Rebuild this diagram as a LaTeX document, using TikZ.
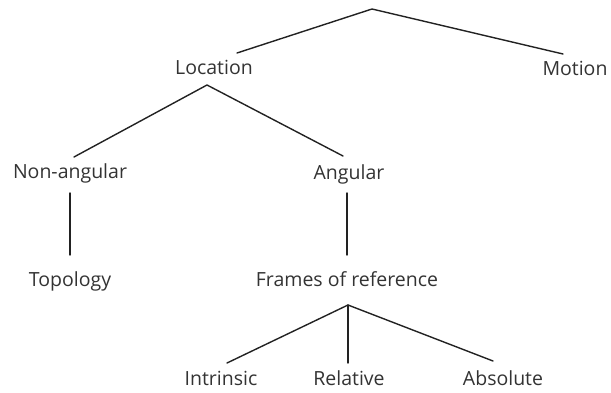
\documentclass[tikz,border=0pt]{standalone}
\usepackage{fontspec}
\setmainfont{Open Sans}
\definecolor{txt}{HTML}{333333}
\definecolor{ln}{HTML}{222222}
\begin{document}
\begin{tikzpicture}[x=1pt,y=-1pt,
  lbl/.style={anchor=base,inner sep=0pt,text=txt,font=\fontsize{19.5}{22}\selectfont},
  edge/.style={draw=ln,line width=1.4pt,line cap=round,line join=round}]
\useasboundingbox (0,0) rectangle (611,393);
% labels
\node[lbl] (loc) at (214,75) {Location};
\node[lbl] (mot) at (575,76) {Motion};
\node[lbl] (nona) at (70,179) {Non-angular};
\node[lbl] (ang) at (349,180) {Angular};
\node[lbl] (top) at (70,287) {Topology};
\node[lbl] (for) at (347,286) {Frames of reference};
\node[lbl] (intr) at (221,385) {Intrinsic};
\node[lbl] (rel) at (349,385) {Relative};
\node[lbl] (abs) at (503,385) {Absolute};
% branch points and line ends
\coordinate (root) at (372,9);
\coordinate (locIn) at (237,53);
\coordinate (motIn) at (563,54);
\coordinate (locOut) at (207,85);
\coordinate (nonaIn) at (74,157);
\coordinate (angIn) at (343,156);
\coordinate (nonaOut) at (70,193);
\coordinate (topIn) at (70,255);
\coordinate (angOut) at (347,193);
\coordinate (forIn) at (347,255);
\coordinate (forOut) at (348,305);
\coordinate (intrIn) at (227,363);
\coordinate (relIn) at (348,363);
\coordinate (absIn) at (493,361);
% connectors
\draw[edge] (locIn) -- (root) -- (motIn);
\draw[edge] (nonaIn) -- (locOut) -- (angIn);
\draw[edge] (nonaOut) -- (topIn);
\draw[edge] (angOut) -- (forIn);
\draw[edge] (intrIn) -- (forOut) -- (absIn);
\draw[edge] (forOut) -- (relIn);
\end{tikzpicture}
\end{document}
